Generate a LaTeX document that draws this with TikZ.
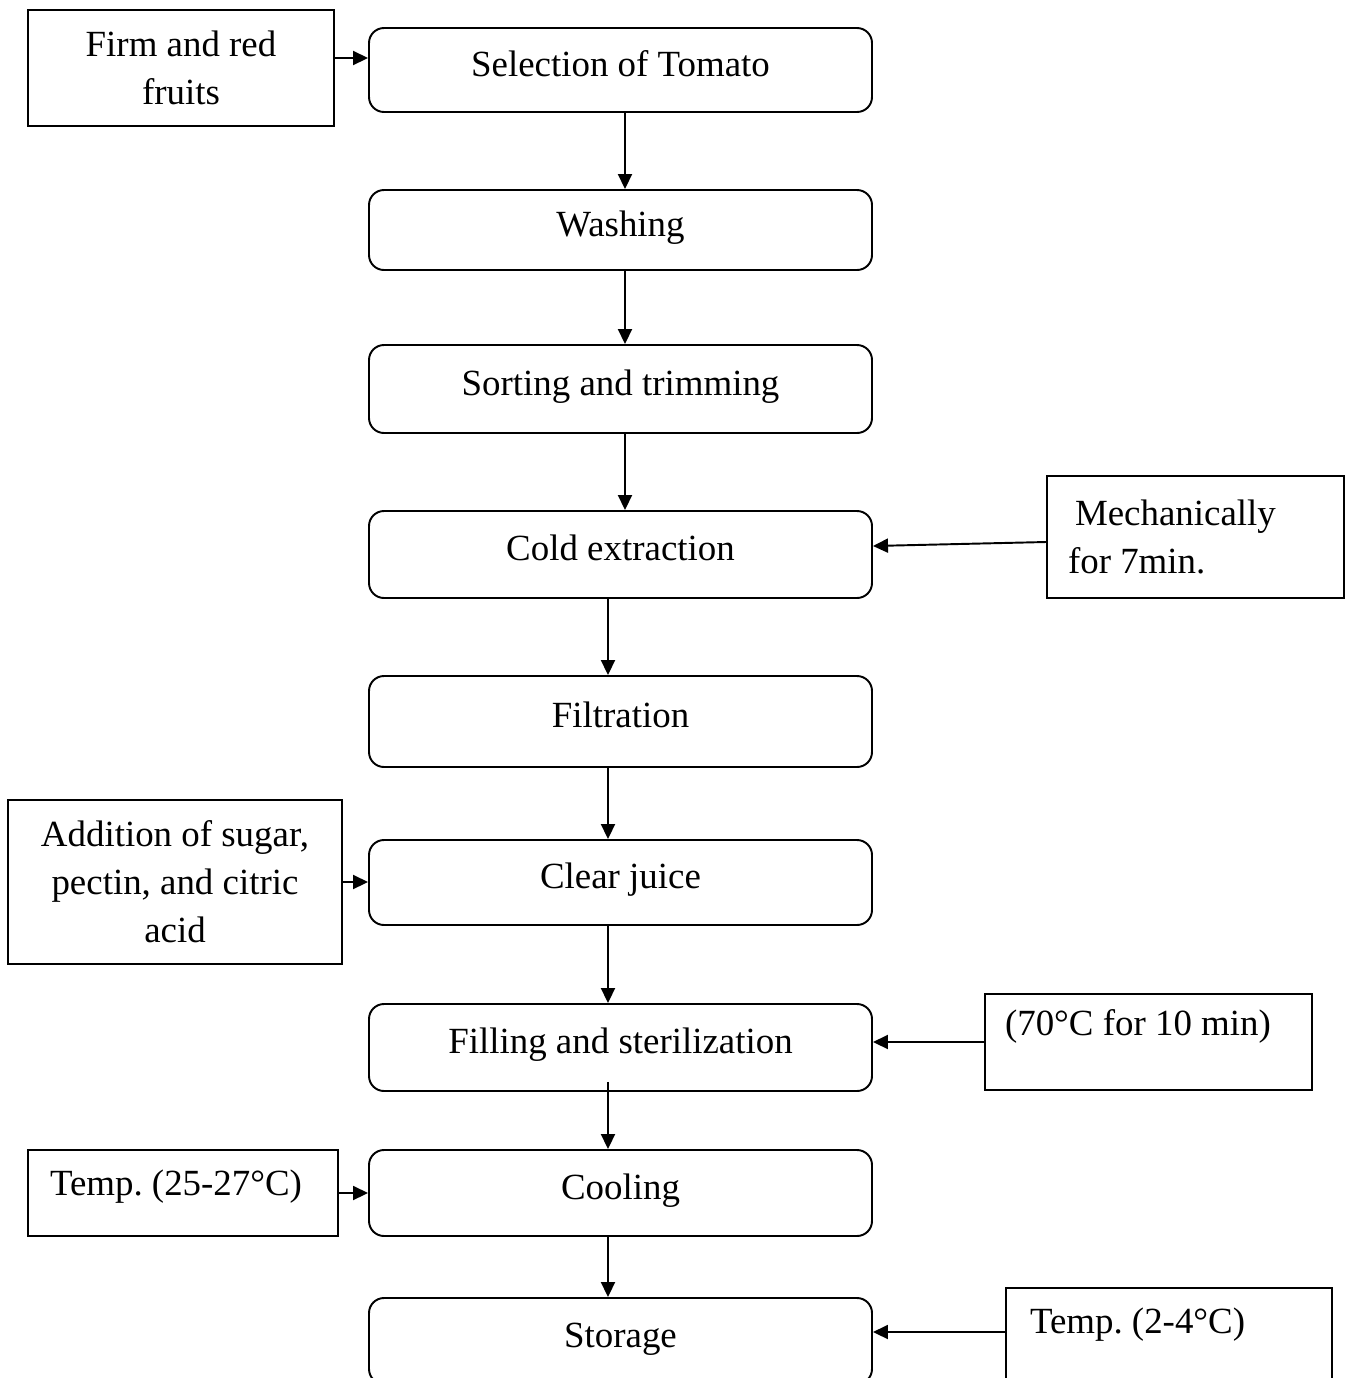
\documentclass[tikz,border=0pt]{standalone}
\usepackage{fontspec}
\setmainfont{Liberation Serif}
\usetikzlibrary{arrows.meta,positioning}
\frenchspacing

\begin{document}
\begin{tikzpicture}[
    stepbox/.style={rectangle, rounded corners=0.3cm, draw, line width=1.1pt, minimum width=10.06cm, text height=0.55cm, text depth=0.3cm},
    notebox/.style={rectangle, draw, line width=1.1pt},
    flow/.style={-{Triangle[length=0.3cm,width=0.28cm]}, line width=1.1pt},
    font=\fontsize{21}{27.3}\selectfont]
    \useasboundingbox (0,0) rectangle (26.9,-27.56);
    \clip (0,0) rectangle (26.9,-27.56);

    % main steps
    \node[stepbox, minimum height=1.68cm] (sel) at (12.41,-1.40) {Selection of Tomato};
    \node[stepbox, minimum height=1.60cm] (wash) at (12.41,-4.60) {Washing};
    \node[stepbox, minimum height=1.76cm] (sort) at (12.41,-7.78) {Sorting and trimming};
    \node[stepbox, minimum height=1.74cm] (cold) at (12.41,-11.09) {Cold extraction};
    \node[stepbox, minimum height=1.82cm] (filt) at (12.41,-14.43) {Filtration};
    \node[stepbox, minimum height=1.70cm] (clear) at (12.41,-17.65) {Clear juice};
    \node[stepbox, minimum height=1.74cm] (fill) at (12.41,-20.95) {Filling and sterilization};
    \node[stepbox, minimum height=1.72cm] (cool) at (12.41,-23.86) {Cooling};
    \node[stepbox, minimum height=1.72cm] (store) at (12.41,-26.82) {Storage};

    % side notes
    \node[notebox, minimum width=6.12cm, minimum height=2.32cm, align=center] (firm) at (3.62,-1.36) {Firm and red\\fruits};
    \node[notebox, minimum height=2.44cm, inner xsep=0.42cm, text width=5.10cm, align=flush left] (mech) at (23.91,-10.74) {\hspace*{0.14cm}Mechanically\\for 7min.};
    \node[notebox, minimum width=6.68cm, minimum height=3.28cm, align=center] (addn) at (3.50,-17.64) {Addition of sugar,\\pectin, and citric\\acid};
    \node[notebox, minimum height=1.92cm, inner xsep=0.40cm, text width=5.74cm, align=flush left, text height=0.55cm, text depth=0.83cm] (hot) at (22.97,-20.84) {(70°C for 10 min)};
    \node[notebox, minimum height=1.72cm, inner xsep=0.44cm, text width=5.32cm, align=flush left, text height=0.55cm, text depth=0.47cm] (warm) at (3.66,-23.86) {Temp. (25-27°C)};
    \node[notebox, minimum height=2.00cm, inner xsep=0.48cm, text width=5.56cm, align=flush left, text height=0.55cm, text depth=0.75cm] (chill) at (23.38,-26.76) {Temp. (2-4°C)};

    % connectors
    \draw[flow] ([yshift=0.2cm]firm.east) -- ([yshift=0.2cm]firm.east -| sel.west);
    \draw[flow] ([xshift=0.09cm]sel.south) -- ([xshift=0.09cm]wash.north);
    \draw[flow] ([xshift=0.09cm]wash.south) -- ([xshift=0.09cm]sort.north);
    \draw[flow] ([xshift=0.09cm]sort.south) -- ([xshift=0.09cm]cold.north);
    \draw[flow] ([yshift=-0.1cm]mech.west) -- ([yshift=0.17cm]cold.east);
    \draw[flow] ([xshift=-0.25cm]cold.south) -- ([xshift=-0.25cm]filt.north);
    \draw[flow] ([xshift=-0.25cm]filt.south) -- ([xshift=-0.25cm]clear.north);
    \draw[flow] (addn.east) -- (addn.east -| clear.west);
    \draw[flow] ([xshift=-0.25cm]clear.south) -- ([xshift=-0.25cm]fill.north);
    \draw[flow] (hot.west) -- (hot.west -| fill.east);
    \draw[flow] ([xshift=-0.25cm,yshift=0.2cm]fill.south) -- ([xshift=-0.25cm]cool.north);
    \draw[flow] (warm.east) -- (warm.east -| cool.west);
    \draw[flow] ([xshift=-0.25cm]cool.south) -- ([xshift=-0.25cm]store.north);
    \draw[flow] ([yshift=0.12cm]chill.west) -- ([yshift=0.12cm]chill.west -| store.east);
\end{tikzpicture}
\end{document}
